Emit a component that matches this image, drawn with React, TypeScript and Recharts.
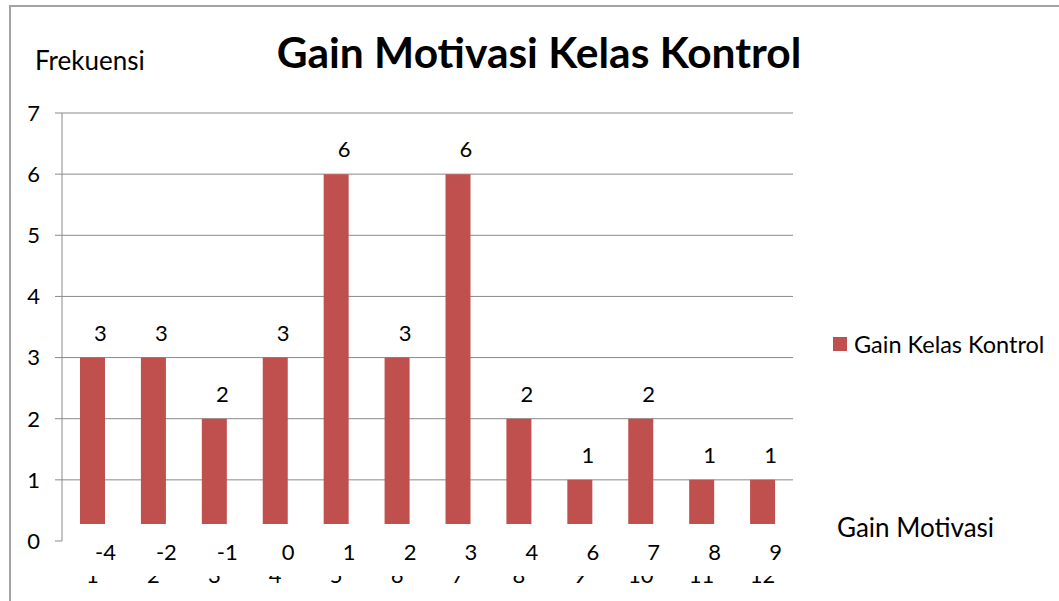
import React from 'react';
import { BarChart, Bar, XAxis, YAxis, CartesianGrid, LabelList, Legend } from 'recharts';

const CATEGORIES = ['1', '2', '3', '4', '5', '6', '7', '8', '9', '10', '11', '12'];
const GAIN_LABELS = ['-4', '-2', '-1', '0', '1', '2', '3', '4', '6', '7', '8', '9'];
const FREQUENCIES = [3, 3, 2, 3, 6, 3, 6, 2, 1, 2, 1, 1];
const Y_TICKS = [0, 1, 2, 3, 4, 5, 6, 7];
const GRID_VALUES = [1, 2, 3, 4, 5, 6, 7];
const BAR_BASE = 0.28;
const SERIES_NAME = 'Gain Kelas Kontrol';
const TITLE = 'Gain Motivasi Kelas Kontrol';
const Y_TITLE = 'Frekuensi';
const X_TITLE = 'Gain Motivasi';

const data = CATEGORIES.map((c, i) => ({
  category: c,
  gain: GAIN_LABELS[i],
  value: FREQUENCIES[i],
  range: [BAR_BASE, FREQUENCIES[i]],
}));

const FONT = 'Lato, "Open Sans", sans-serif';
const BAR_COLOR = '#C0504D';
const GRID_COLOR = '#8a8a8a';

const XTick = (props: any) => {
  const { x, y, payload } = props;
  const idx = payload.index;
  const id = `xclip-${idx}`;
  return (
    <g>
      <defs>
        <clipPath id={id}>
          <rect x={x - 30} y={y + 35} width={60} height={20} />
        </clipPath>
      </defs>
      <text x={x + 13} y={y + 19} textAnchor="middle" fontFamily={FONT} fontSize={22} fill="#000">
        {GAIN_LABELS[idx]}
      </text>
      <text x={x} y={y + 42} textAnchor="middle" fontFamily={FONT} fontSize={22} fill="#000" clipPath={`url(#${id})`}>
        {payload.value}
      </text>
    </g>
  );
};

const renderLegend = () => (
  <div style={{ display: 'flex', alignItems: 'center', fontFamily: FONT, fontSize: 23.5, color: '#000', whiteSpace: 'nowrap' }}>
    <span style={{ display: 'inline-block', width: 14, height: 14, background: BAR_COLOR, marginRight: 7 }} />
    <span>{SERIES_NAME}</span>
  </div>
);

export default function App() {
  return (
    <div style={{ position: 'absolute', left: 0, top: 0, width: 1059, height: 601, overflow: 'hidden', background: '#fff' }}>
      <div style={{ position: 'absolute', left: 9, top: 5, width: 1050, height: 596, borderTop: '2px solid #a3a3a3', borderLeft: '2px solid #a3a3a3', boxSizing: 'border-box' }} />
      <div style={{ position: 'absolute', left: 0, top: 0 }}>
        <BarChart width={1059} height={601} data={data} margin={{ top: 113, right: 266, bottom: 30, left: 0 }} barSize={25}>
          <CartesianGrid vertical={false} horizontalValues={GRID_VALUES} stroke={GRID_COLOR} strokeWidth={1} />
          <XAxis dataKey="category" axisLine={false} tickLine={false} tickSize={0} tickMargin={0} interval={0} tick={<XTick />} height={30} />
          <YAxis
            domain={[0, 7]}
            ticks={Y_TICKS}
            interval={0}
            width={62}
            axisLine={{ stroke: GRID_COLOR }}
            tickLine={{ stroke: GRID_COLOR }}
            tickSize={7}
            tickMargin={15}
            tick={{ fontFamily: FONT, fontSize: 22, fill: '#000' }}
          />
          <Legend layout="horizontal" align="center" verticalAlign="middle" content={renderLegend} wrapperStyle={{ left: 833, top: 330, width: 226, height: 28 }} />
          <Bar dataKey="range" name={SERIES_NAME} fill={BAR_COLOR} isAnimationActive={false}>
            <LabelList dataKey="value" position="top" offset={17} dx={8} style={{ fontFamily: FONT, fontSize: 22, fill: '#000' }} />
          </Bar>
          <text x={539} y={68} textAnchor="middle" fontFamily={FONT} fontWeight={700} fontSize={42.5} fill="#000">{TITLE}</text>
          <text x={35} y={70} fontFamily={FONT} fontSize={26} fill="#000">{Y_TITLE}</text>
          <text x={837} y={537} fontFamily={FONT} fontSize={26} fill="#000">{X_TITLE}</text>
        </BarChart>
      </div>
    </div>
  );
}
